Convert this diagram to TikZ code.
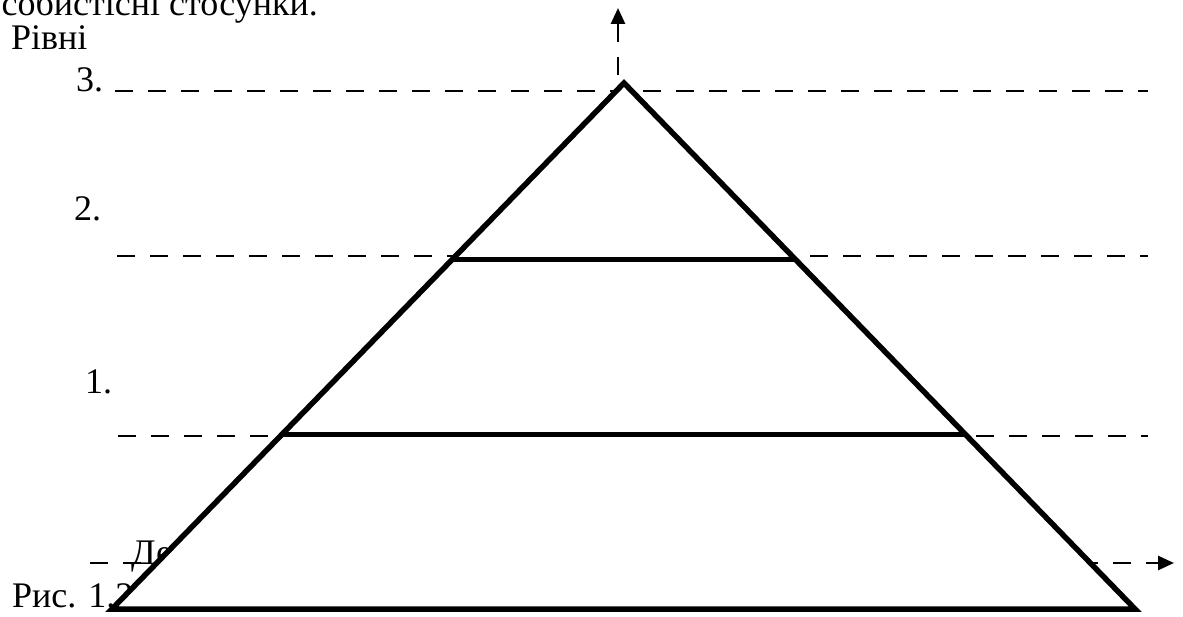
\documentclass[tikz,border=0pt]{standalone}
\usepackage{fontspec}
\setmainfont{Liberation Serif}
\usetikzlibrary{arrows.meta,calc}
\begin{document}
\begin{tikzpicture}[x=1pt,y=-1pt,
  lbl/.style={anchor=base west,inner sep=0pt,font=\fontsize{36}{40}\selectfont},
  lvl/.style={line width=2.8pt,dash pattern=on 18pt off 15pt},
  axis/.style={lvl,-{Triangle[length=16pt,width=14pt]}},
  pyr/.style={line width=5.5pt,fill=white,line join=miter},
  bar/.style={line width=4.8pt}]
\useasboundingbox (0,0) rectangle (1183,617);
\clip (0,0) rectangle (1183,617);
% text lines
\node[lbl,anchor=base east] (top) at (318,16) {особистісні стосунки.};
\node[lbl] (levels) at (11,50) {Рівні};
\node[lbl] (n3) at (76,92) {3.};
\node[lbl] (n2) at (74,221) {2.};
\node[lbl] (n1) at (85,393) {1.};
\node[lbl] (de) at (131,564) {Де};
\node[lbl] (fig) at (12,607) {Рис. 1.2};
% coordinates
\coordinate (ap) at (624,83);
\coordinate (bl) at (112,609);
\coordinate (br) at (1135,609);
\coordinate (l3a) at (115,91);  \coordinate (l3b) at (1148,91);
\coordinate (l2a) at (117,256); \coordinate (l2b) at (1148,256);
\coordinate (l1a) at (118,436); \coordinate (l1b) at (1148,436);
\coordinate (xa) at (90,563);   \coordinate (xb) at (1174,563);
\coordinate (ya) at (618,75);   \coordinate (yb) at (618,8);
% dashed levels and axes
\draw[lvl] (l3a) -- (l3b);
\draw[lvl] (l2a) -- (l2b);
\draw[lvl] (l1a) -- (l1b);
\draw[axis] (xa) -- (xb);
\draw[axis] (ya) -- (yb);
% pyramid
\draw[pyr] (bl) -- (ap) -- (br) -- cycle;
\draw[bar] ($(bl)!0.664!(ap)$) -- ($(br)!0.664!(ap)$);
\draw[bar] ($(bl)!0.332!(ap)$) -- ($(br)!0.332!(ap)$);
\end{tikzpicture}
\end{document}
